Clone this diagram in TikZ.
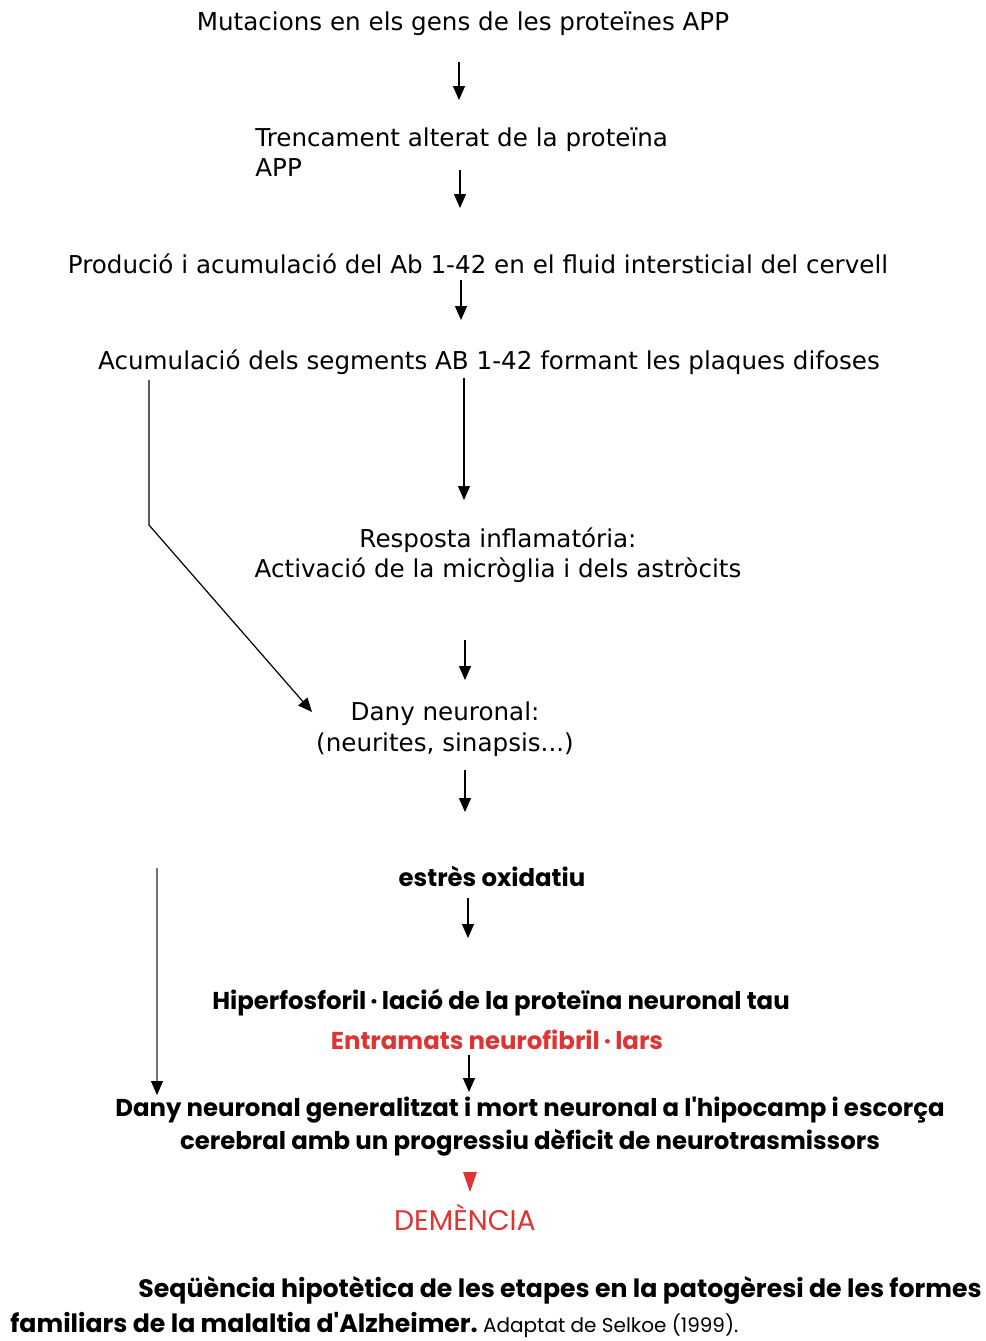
\documentclass[tikz,border=0pt]{standalone}
\usepackage{fontspec}
\setmainfont{DejaVu Sans}
\newfontfamily\comic{Poppins}
\usetikzlibrary{arrows.meta}
\definecolor{redtxt}{RGB}{222,52,52}
\tikzset{
  top/.style={font=\fontsize{12.3}{15.2}\selectfont, inner sep=0pt, align=center},
  bot/.style={font=\comic\bfseries\fontsize{12.2}{16.5}\selectfont, inner sep=0pt, align=center},
  arr/.style={-{Triangle[width=6pt,length=7pt]}, line width=0.6pt},
  garr/.style={arr, draw=black!55, -{Triangle[width=6pt,length=7pt,fill=black,color=black]}},
}
\begin{document}
\begin{tikzpicture}[x=0.5pt,y=-0.5pt]
\useasboundingbox (0,0) rectangle (986,1341);
\node[top] (t1) at (463,24) {Mutacions en els gens de les proteïnes APP};
\node[top, align=left, anchor=west] (t2) at (255,152) {Trencament alterat de la proteïna\\APP};
\node[top] (t3) at (478,264) {Produció i acumulació del Ab 1-42 en el fluid intersticial del cervell};
\node[top] (t4) at (489,362) {Acumulació dels segments AB 1-42 formant les plaques difoses};
\node[top] (t5) at (498,555) {Resposta inflamatória:\\Activació de la micròglia i dels astròcits};
\node[top] (t6) at (445,729) {Dany neuronal:\\(neurites, sinapsis...)};
\node[bot] (t7) at (492,876) {estrès oxidatiu};
\node[bot] (t8) at (501,1003) {Hiperfosforil\,·\,lació de la proteïna neuronal tau};
\node[bot, text=redtxt] (t9) at (497,1040) {Entramats neurofibril\,·\,lars};
\node[bot] (t10) at (530,1127) {Dany neuronal generalitzat i mort neuronal a l'hipocamp i escorça\\cerebral amb un progressiu dèficit de neurotrasmissors};
\node[bot, text=redtxt, font=\comic\fontsize{14.2}{16}\selectfont] (t11) at (465,1217) {DEMÈNCIA};
\node[bot, anchor=west, font=\comic\bfseries\fontsize{12.6}{16.5}\selectfont] (c1) at (138,1290) {Seqüència hipotètica de les etapes en la patogèresi de les formes};
\node[bot, anchor=west, font=\comic\bfseries\fontsize{12.6}{16.5}\selectfont] (c2) at (10,1325) {familiars de la malaltia d'Alzheimer.\ {\mdseries\fontsize{10}{12}\selectfont Adaptat de Selkoe (1999).}};
% coordinates
\coordinate (a1s) at (459,62); \coordinate (a1e) at (459,100);
\coordinate (a2s) at (460,170); \coordinate (a2e) at (460,208);
\coordinate (a3s) at (461,280); \coordinate (a3e) at (461,320);
\coordinate (a4s) at (464,378); \coordinate (a4e) at (464,500);
\coordinate (l1s) at (149,380); \coordinate (l1m) at (149,525); \coordinate (l1e) at (312,712);
\coordinate (a5s) at (465,640); \coordinate (a5e) at (465,680);
\coordinate (a6s) at (465,770); \coordinate (a6e) at (465,812);
\coordinate (a7s) at (468,898); \coordinate (a7e) at (468,938);
\coordinate (l2s) at (157,868); \coordinate (l2e) at (157,1095);
\coordinate (a8s) at (469,1055); \coordinate (a8e) at (469,1092);
\coordinate (a9s) at (470,1172); \coordinate (a9e) at (470,1192);
\draw[arr] (a1s) -- (a1e);
\draw[arr] (a2s) -- (a2e);
\draw[arr] (a3s) -- (a3e);
\draw[arr] (a4s) -- (a4e);
\draw[arr] (l1s) -- (l1m) -- (l1e);
\draw[arr] (a5s) -- (a5e);
\draw[arr] (a6s) -- (a6e);
\draw[arr] (a7s) -- (a7e);
\draw[garr] (l2s) -- (l2e);
\draw[arr] (a8s) -- (a8e);
\fill[redtxt] (a9s) ++(-7,0) -- ++(14,0) -- (a9e) -- cycle;
\end{tikzpicture}
\end{document}
